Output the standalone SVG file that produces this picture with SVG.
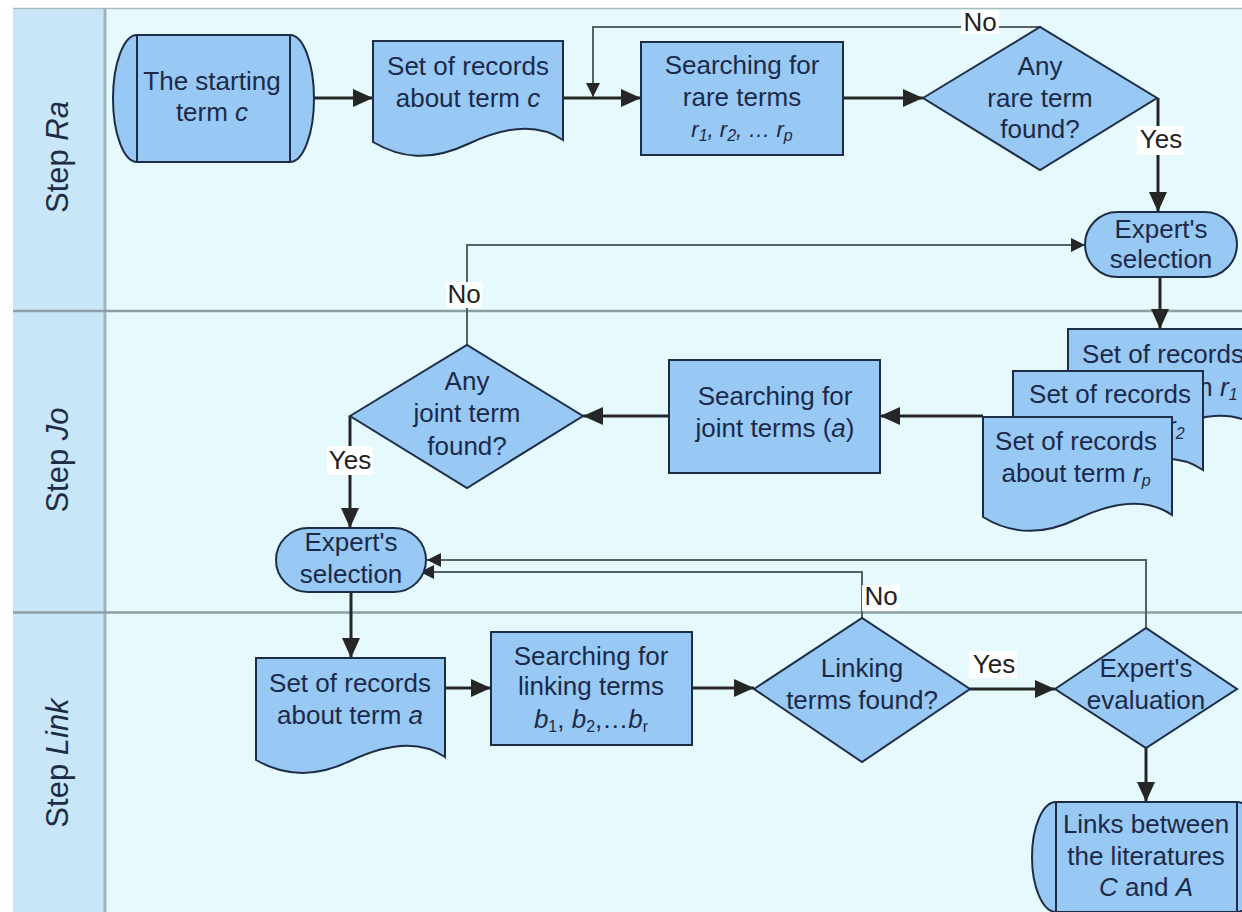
<svg xmlns="http://www.w3.org/2000/svg" width="1242" height="912" viewBox="0 0 1242 912">
<defs>
<style>
.node{fill:#98c8f4;stroke:#1e2d45;stroke-width:2}
.ln{fill:none;stroke:#1e2d45;stroke-width:2}
.t{font-family:"Liberation Sans",Arial,sans-serif;font-size:26px;fill:#1b2a48;text-anchor:middle}
.lab{font-family:"Liberation Sans",Arial,sans-serif;font-size:26px;fill:#222;text-anchor:middle}
.lane{font-family:"Liberation Sans",Arial,sans-serif;font-size:31px;fill:#1e2d45;text-anchor:middle}
.sub{font-size:16px}
.it{font-style:italic}
.main{fill:none;stroke:#262626;stroke-width:3}
.fb{fill:none;stroke:#566166;stroke-width:2}
.bg{fill:#ffffff}
</style>
<marker id="big" markerUnits="userSpaceOnUse" markerWidth="20" markerHeight="18" refX="20" refY="9" orient="auto">
<path d="M0,0 L20,9 L0,18 z" fill="#262626"/>
</marker>
<marker id="small" markerUnits="userSpaceOnUse" markerWidth="14" markerHeight="14" refX="14" refY="7" orient="auto">
<path d="M0,0 L14,7 L0,14 z" fill="#262626"/>
</marker>
</defs>
<rect x="0" y="0" width="1242" height="912" fill="#ffffff"/>
<g id="lanes">
<rect x="13" y="8" width="1229" height="904" fill="#e6fafd"/>
<rect x="13" y="8" width="92" height="904" fill="#c8e6f8"/>
<line x1="13" y1="8.5" x2="1242" y2="8.5" stroke="#a9bcc4" stroke-width="1.5"/>
<line x1="105" y1="8" x2="105" y2="912" stroke="#a0b4bf" stroke-width="3"/>
<line x1="13" y1="311" x2="1242" y2="311" stroke="#8d9ea6" stroke-width="2.5"/>
<line x1="13" y1="612.5" x2="1242" y2="612.5" stroke="#8d9ea6" stroke-width="2.5"/>
<text class="lane" transform="translate(68,157) rotate(-90)">Step <tspan class="it">Ra</tspan></text>
<text class="lane" transform="translate(68,460) rotate(-90)">Step <tspan class="it">Jo</tspan></text>
<text class="lane" transform="translate(68,763) rotate(-90)">Step <tspan class="it">Link</tspan></text>
</g>
<g id="connectors">
<path class="main" d="M313,98 H373" marker-end="url(#big)"/>
<path class="main" d="M563,98 H641" marker-end="url(#big)"/>
<path class="main" d="M843,98 H923" marker-end="url(#big)"/>
<path class="main" d="M1158,98 V212" marker-end="url(#big)"/>
<path class="main" d="M1160,277 V329" marker-end="url(#big)"/>
<path class="main" d="M983,416 H880" marker-end="url(#big)"/>
<path class="main" d="M669,416 H583" marker-end="url(#big)"/>
<path class="main" d="M350,416 V528" marker-end="url(#big)"/>
<path class="main" d="M351,592 V658" marker-end="url(#big)"/>
<path class="main" d="M445,688 H491" marker-end="url(#big)"/>
<path class="main" d="M692,688 H754" marker-end="url(#big)"/>
<path class="main" d="M970,689 H1055" marker-end="url(#big)"/>
<path class="main" d="M1146,748 V802" marker-end="url(#big)"/>
<path class="fb" d="M1040,27 H593 V97" marker-end="url(#small)"/>
<path class="fb" d="M467,345 V245 H1085" marker-end="url(#small)"/>
<path class="fb" d="M1146,628 V560 H427" marker-end="url(#small)"/>
<path class="fb" d="M862,618 V572 H420" marker-end="url(#small)"/>
<rect class="bg" x="961" y="10" width="38" height="24"/>
<text class="lab" x="980" y="31">No</text>
<rect class="bg" x="1137" y="126" width="47" height="29"/>
<text class="lab" x="1161" y="148">Yes</text>
<rect class="bg" x="446" y="282" width="36" height="26"/>
<text class="lab" x="464" y="303">No</text>
<rect class="bg" x="327" y="446" width="46" height="29"/>
<text class="lab" x="350" y="469">Yes</text>
<rect class="bg" x="862" y="585" width="38" height="26"/>
<text class="lab" x="881" y="605">No</text>
<rect class="bg" x="969" y="651" width="48" height="27"/>
<text class="lab" x="994" y="673">Yes</text>
</g>
<g id="start">
<path class="node" d="M137,35 H290 A24,63.5 0 0 1 290,162 H137 A24,63.5 0 0 1 137,35 Z"/>
<path class="ln" d="M137,35 V162 M290,35 V162"/>
<text class="t" x="212" y="90">The starting</text>
<text class="t" x="212" y="121">term <tspan class="it">c</tspan></text>
</g>
<g id="doc-c">
<path class="node" d="M373,41 H563 V140 C540,124 510,124 468,144 C430,162 400,158 373,142 Z"/>
<text class="t" x="468" y="75">Set of records</text>
<text class="t" x="468" y="107">about term <tspan class="it">c</tspan></text>
</g>
<g id="search-rare">
<rect class="node" x="641" y="42" width="202" height="113"/>
<text class="t" x="742" y="74">Searching for</text>
<text class="t" x="742" y="106">rare terms</text>
<text class="t it" x="742" y="137" style="font-size:22px">r<tspan class="sub" dy="4">1</tspan><tspan dy="-4">, r</tspan><tspan class="sub" dy="4">2</tspan><tspan dy="-4">,  … r</tspan><tspan class="sub" dy="4">p</tspan></text>
</g>
<g id="dec-rare">
<polygon class="node" points="923,98 1040,27 1157,98 1040,170"/>
<text class="t" x="1040" y="75">Any</text>
<text class="t" x="1040" y="107">rare term</text>
<text class="t" x="1040" y="138">found?</text>
</g>
<g id="expert-sel-1">
<rect class="node" x="1085" y="212" width="152" height="65" rx="32.5" ry="32.5"/>
<text class="t" x="1161" y="238">Expert's</text>
<text class="t" x="1161" y="268">selection</text>
</g>
<g id="docs-r">
<path class="node" d="M1068,329 H1258 V427 C1235,411 1205,411 1163,431 C1125,449 1095,445 1068,429 Z"/>
<text class="t" x="1163" y="363">Set of records</text>
<text class="t" x="1163" y="396">about term  <tspan class="it">r</tspan><tspan class="sub it" dy="4">1</tspan></text>
<path class="node" d="M1013,371 H1203 V470 C1180,454 1150,454 1108,474 C1070,492 1040,488 1013,472 Z"/>
<text class="t" x="1110" y="403">Set of records</text>
<text class="t" x="1110" y="435">about term  <tspan class="it">r</tspan><tspan class="sub it" dy="4">2</tspan></text>
<path class="node" d="M983,417 H1172 V515 C1149,499 1119,499 1077,519 C1040,537 1009,533 983,517 Z"/>
<text class="t" x="1076" y="450">Set of records</text>
<text class="t" x="1076" y="482">about term  <tspan class="it">r</tspan><tspan class="sub it" dy="4">p</tspan></text>
</g>
<g id="search-joint">
<rect class="node" x="669" y="360" width="211" height="113"/>
<text class="t" x="775" y="405">Searching for</text>
<text class="t" x="775" y="437">joint terms (<tspan class="it">a</tspan>)</text>
</g>
<g id="dec-joint">
<polygon class="node" points="350,416 467,345 583,416 467,488"/>
<text class="t" x="467" y="390">Any</text>
<text class="t" x="467" y="422">joint term</text>
<text class="t" x="467" y="455">found?</text>
</g>
<g id="expert-sel-2">
<rect class="node" x="276" y="528" width="150" height="64" rx="32" ry="32"/>
<text class="t" x="351" y="551">Expert's</text>
<text class="t" x="351" y="583">selection</text>
</g>
<g id="doc-a">
<path class="node" d="M256,658 H445 V757 C422,741 392,741 350,761 C313,779 282,775 256,760 Z"/>
<text class="t" x="350" y="692">Set of records</text>
<text class="t" x="350" y="724">about term <tspan class="it">a</tspan></text>
</g>
<g id="search-link">
<rect class="node" x="491" y="632" width="201" height="113"/>
<text class="t" x="591" y="665">Searching for</text>
<text class="t" x="591" y="695">linking terms</text>
<text class="t" x="591" y="728"><tspan class="it">b</tspan><tspan class="sub" dy="4">1</tspan><tspan dy="-4">, </tspan><tspan class="it">b</tspan><tspan class="sub" dy="4">2</tspan><tspan dy="-4">,…</tspan><tspan class="it">b</tspan><tspan class="sub" dy="4">r</tspan></text>
</g>
<g id="dec-link">
<polygon class="node" points="754,689 862,618 970,689 862,762"/>
<text class="t" x="862" y="677">Linking</text>
<text class="t" x="862" y="709">terms found?</text>
</g>
<g id="dec-eval">
<polygon class="node" points="1055,689 1146,628 1237,689 1146,748"/>
<text class="t" x="1146" y="677">Expert's</text>
<text class="t" x="1146" y="709">evaluation</text>
</g>
<g id="links">
<path class="node" d="M1056,802 H1237 A24,55 0 0 1 1237,912 H1056 A24,55 0 0 1 1056,802 Z"/>
<path class="ln" d="M1056,802 V912 M1237,802 V912"/>
<text class="t" x="1146" y="833">Links between</text>
<text class="t" x="1146" y="865">the literatures</text>
<text class="t" x="1146" y="896"><tspan class="it">C</tspan> and <tspan class="it">A</tspan></text>
</g>
</svg>
